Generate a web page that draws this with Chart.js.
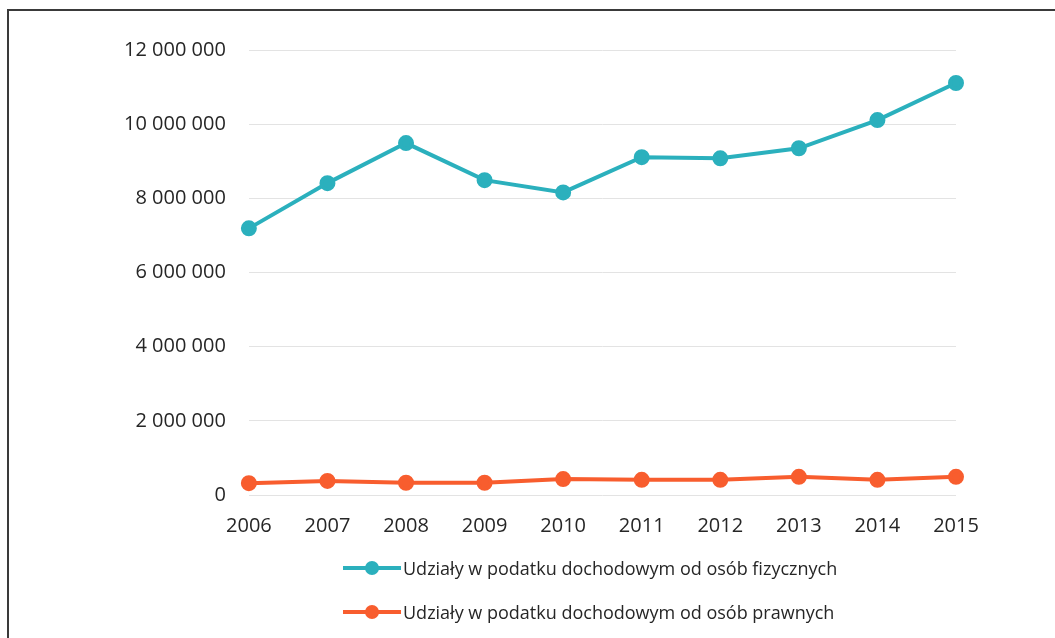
<!DOCTYPE html>
<html>
<head>
<meta charset="utf-8">
<script src="https://cdn.jsdelivr.net/npm/chart.js@4/dist/chart.umd.min.js"></script>
<style>
  html, body { margin: 0; padding: 0; background: #fff; }
  #wrap { position: relative; width: 1055px; height: 638px; overflow: hidden; }
  #frame { position: absolute; left: 7px; top: 9px; right: -10px; bottom: -10px;
           border-top: 2px solid #3a3a3a; border-left: 2px solid #3a3a3a; }
  #legend { position: absolute; left: 343px; top: 553px; font-family: "Open Sans", sans-serif;
            font-size: 18px; color: #262626; }
  .row { display: flex; align-items: center; height: 30px; margin-bottom: 14px; }
  .icon { position: relative; width: 58px; height: 14px; margin-right: 2px; }
  .icon .ln { position: absolute; left: 0; right: 0; top: 5px; height: 4px; }
  .icon .dot { position: absolute; left: 22px; top: 0; width: 14px; height: 14px; border-radius: 50%; }
</style>
</head>
<body>
<div id="wrap">
  <canvas id="chart" width="1055" height="638"></canvas>
  <div id="frame"></div>
  <div id="legend"></div>
</div>
<script>
const years = ['2006', '2007', '2008', '2009', '2010', '2011', '2012', '2013', '2014', '2015']
const fizyczne = [7190000, 8410000, 9490000, 8490000, 8160000, 9110000, 9080000, 9350000, 10110000, 11110000]
const prawne = [320000, 380000, 330000, 330000, 430000, 410000, 410000, 490000, 410000, 490000]
const seriesNames = ['Udziały w podatku dochodowym od osób fizycznych', 'Udziały w podatku dochodowym od osób prawnych']
const colors = ['#2bb0bd', '#f85d2e']

const fmt = v => String(v).replace(/\B(?=(\d{3})+(?!\d))/g, ' ')

const showData = {
  labels: years,
  datasets: [fizyczne, prawne].map((d, i) => ({
    label: seriesNames[i],
    data: d,
    borderColor: colors[i],
    backgroundColor: colors[i],
    borderWidth: 4,
    pointRadius: 6,
    pointHoverRadius: 6,
    tension: 0
  }))
}

const options = {
  responsive: false,
  animation: false,
  layout: { padding: { left: 101, right: 99, top: 50, bottom: 81 } },
  plugins: { legend: { display: false }, tooltip: { enabled: false } },
  scales: {
    x: {
      offset: false,
      grid: { display: false, drawTicks: false },
      border: { display: false },
      ticks: { padding: 19, color: '#262626', font: { family: 'Open Sans', size: 20 } }
    },
    y: {
      min: 0,
      max: 12000000,
      grid: { color: '#e3e3e3', lineWidth: 1, drawTicks: false },
      border: { display: false },
      ticks: {
        stepSize: 2000000,
        padding: 23,
        color: '#262626',
        font: { family: 'Open Sans', size: 20 },
        callback: value => fmt(value)
      }
    }
  }
}

const ctx = document.getElementById('chart').getContext('2d')
new Chart(ctx, { type: 'line', data: showData, options: options })

// legend, two rows like in the original
const legend = document.getElementById('legend')
seriesNames.forEach((name, i) => {
  const row = document.createElement('div')
  row.className = 'row'
  row.innerHTML = '<div class="icon"><div class="ln" style="background:' + colors[i] + '"></div>' +
    '<div class="dot" style="background:' + colors[i] + '"></div></div><span>' + name + '</span>'
  legend.appendChild(row)
})
</script>
</body>
</html>
